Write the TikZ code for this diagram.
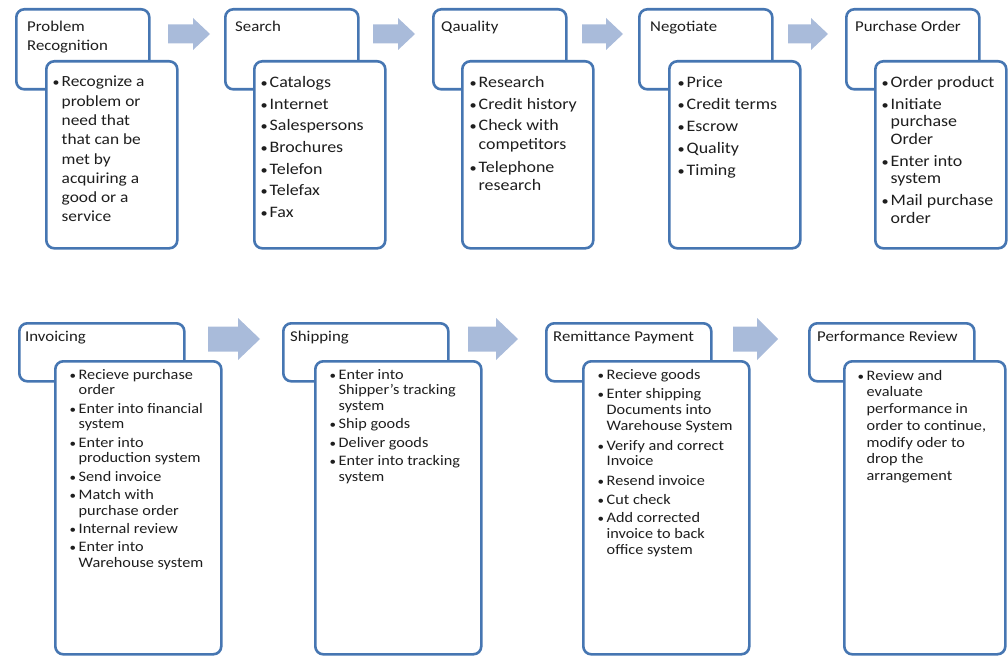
\documentclass[tikz,border=0pt]{standalone}
\usepackage{graphicx}
\usepackage{fontspec}
\setmainfont{Carlito}[FakeStretch=1.12]
\definecolor{bord}{HTML}{4676B2}
\definecolor{arr}{HTML}{A9BBDA}
\definecolor{txt}{HTML}{1E1E1E}
\newlength\bw \setlength\bw{9.5pt}
\newcommand\bu{\makebox[\bw][l]{\hspace{0.5pt}\scalebox{0.8}{\textbullet}}}
\newcommand\ind{\hspace*{\bw}}
% flow arrow: tail x, head-base x, tip x, centre y, shaft width, head width
\newcommand\flowarrow[6]{%
  \fill[arr] (#1,#4-#5/2) -- (#2,#4-#5/2) -- (#2,#4-#6/2) -- (#3,#4)
    -- (#2,#4+#6/2) -- (#2,#4+#5/2) -- (#1,#4+#5/2) -- cycle;}
\tikzset{
  box/.style={draw=bord, line width=2.6pt, rounded corners=8pt, fill=white, anchor=north west, inner sep=0pt},
  hdrT/.style={box, minimum width=133pt, minimum height=80pt},
  bodT/.style={box, minimum width=131pt, minimum height=187pt},
  hdrB/.style={box, minimum width=165pt, minimum height=58pt},
  bodB/.style={box, minimum width=166pt, minimum height=293pt},
  htxt/.style={anchor=north west, inner sep=0pt, align=left, text=txt, font=\fontsize{15}{19}\selectfont},
  btxt/.style={anchor=north west, inner sep=0pt, align=left, text=txt}
}
\begin{document}
\begin{tikzpicture}[x=1pt, y=-1pt]
\useasboundingbox (0,0) rectangle (1008,658);
% ---------- flow arrows ----------
\flowarrow{168}{193}{210}{34}{19}{32}
\flowarrow{373}{398}{415}{34}{19}{32}
\flowarrow{582}{606}{623}{34}{19}{32}
\flowarrow{788}{811}{828}{34}{19}{32}
\flowarrow{208}{238}{260}{339}{25}{42}
\flowarrow{468}{496}{518}{339}{25}{42}
\flowarrow{733}{757}{778}{339}{25}{42}
% ---------- top row ----------
\node[hdrT] (h1) at (15,8) {};
\node[bodT] (b1) at (45,60) {};
\node[htxt] (h1t) at (27,21) {Problem\\Recognition};
\node[btxt, font=\fontsize{15.5}{19.3}\selectfont] (b1t) at (52,76)
  {\bu Recognize a\\ \ind problem or\\ \ind need that\\ \ind that can be\\ \ind met by\\ \ind acquiring a\\ \ind good or a\\ \ind service};

\node[hdrT] (h2) at (224,8) {};
\node[bodT] (b2) at (253,60) {};
\node[htxt] (h2t) at (235,21) {Search};
\node[btxt, font=\fontsize{16}{21.7}\selectfont] (b2t) at (260,76)
  {\bu Catalogs\\ \bu Internet\\ \bu Salespersons\\ \bu Brochures\\ \bu Telefon\\ \bu Telefax\\ \bu Fax};

\node[hdrT] (h3) at (432,8) {};
\node[bodT] (b3) at (461,60) {};
\node[htxt] (h3t) at (441,21) {Qauality};
\node[btxt, font=\fontsize{16}{18.3}\selectfont] (b3t) at (469,76)
  {\bu Research\\[4pt] \bu Credit history\\[3pt] \bu Check with\\ \ind competitors\\[5pt] \bu Telephone\\ \ind research};

\node[hdrT] (h4) at (638,8) {};
\node[bodT] (b4) at (668,60) {};
\node[htxt] (h4t) at (650,21) {Negotiate};
\node[btxt, font=\fontsize{16}{22}\selectfont] (b4t) at (677,76)
  {\bu Price\\ \bu Credit terms\\ \bu Escrow\\ \bu Quality\\ \bu Timing};

\node[hdrT] (h5) at (845,8) {};
\node[bodT] (b5) at (874,60) {};
\node[htxt] (h5t) at (855,21) {Purchase Order};
\node[btxt, font=\fontsize{16}{17.7}\selectfont] (b5t) at (881,76)
  {\bu Order product\\[4pt] \bu Initiate\\ \ind purchase\\ \ind Order\\[4pt] \bu Enter into\\ \ind system\\[4pt] \bu Mail purchase\\ \ind order};

% ---------- bottom row ----------
\node[hdrB] (h6) at (18,322) {};
\node[bodB] (b6) at (54,360) {};
\node[htxt] (h6t) at (25,331) {Invoicing};
\node[btxt, font=\fontsize{14.5}{15.7}\selectfont] (b6t) at (69,369)
  {\bu Recieve purchase\\ \ind order\\[2.6pt] \bu Enter into financial\\ \ind system\\[2.6pt] \bu Enter into\\ \ind production system\\[2.6pt] \bu Send invoice\\[2.6pt] \bu Match with\\ \ind purchase order\\[2.6pt] \bu Internal review\\[2.6pt] \bu Enter into\\ \ind Warehouse system};

\node[hdrB] (h7) at (282,322) {};
\node[bodB] (b7) at (314,360) {};
\node[htxt] (h7t) at (290,331) {Shipping};
\node[btxt, font=\fontsize{14.5}{15.7}\selectfont] (b7t) at (329,369)
  {\bu Enter into\\ \ind Shipper's tracking\\ \ind system\\[2.6pt] \bu Ship goods\\[2.6pt] \bu Deliver goods\\[2.6pt] \bu Enter into tracking\\ \ind system};

\node[hdrB] (h8) at (545,322) {};
\node[bodB] (b8) at (582,360) {};
\node[htxt] (h8t) at (553,331) {Remittance Payment};
\node[btxt, font=\fontsize{14.5}{15.7}\selectfont] (b8t) at (597,369)
  {\bu Recieve goods\\[4pt] \bu Enter shipping\\ \ind Documents into\\ \ind Warehouse System\\[4pt] \bu Verify and correct\\ \ind Invoice\\[4pt] \bu Resend invoice\\[3pt] \bu Cut check\\[3pt] \bu Add corrected\\ \ind invoice to back\\ \ind office system};

\node[hdrB] (h9) at (808,322) {};
\node[bodB, minimum width=161pt] (b9) at (843,360) {};
\node[htxt] (h9t) at (817,331) {Performance Review};
\node[btxt, font=\fontsize{14.5}{16.7}\selectfont] (b9t) at (857,370)
  {\bu Review and\\ \ind evaluate\\ \ind performance in\\ \ind order to continue,\\ \ind modify oder to\\ \ind drop the\\ \ind arrangement};
\end{tikzpicture}
\end{document}
